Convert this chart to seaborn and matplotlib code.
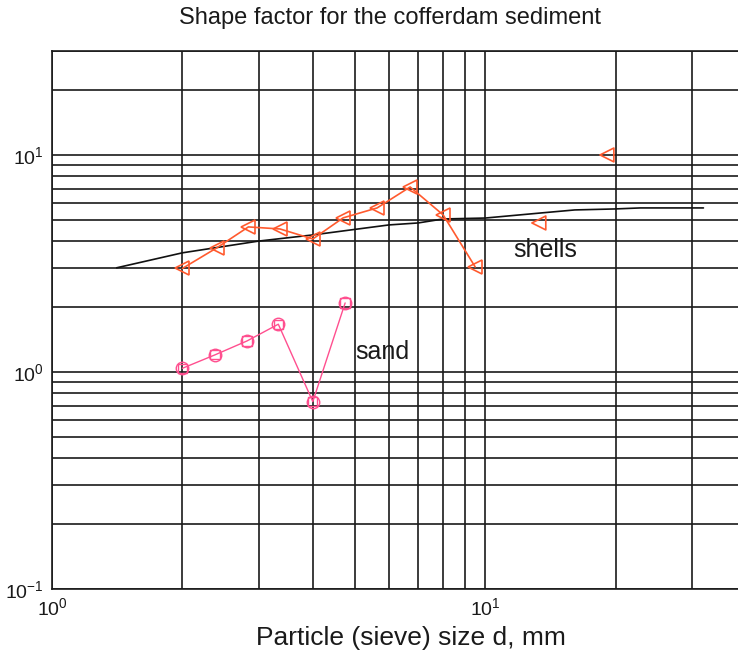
import numpy as np
import pandas as pd
import seaborn as sns
import matplotlib.pyplot as plt

# shells (connected series)
shell_d = [2.0, 2.4, 2.84, 3.36, 4.0, 4.7, 5.63, 6.71, 8.0, 9.48]
shell_f = [3.0, 3.73, 4.66, 4.56, 4.1, 5.13, 5.7, 7.12, 5.29, 3.05]
# shells, loose points
shell_extra_d = [13.3, 19.1]
shell_extra_f = [4.86, 10.0]
# sand
sand_d = [2.0, 2.38, 2.82, 3.33, 4.0, 4.75]
sand_f = [1.04, 1.2, 1.39, 1.66, 0.73, 2.08]
# fitted curve
fit_d = [1.41, 2.0, 3.0, 4.0, 4.88, 6.0, 7.0, 8.0, 10.0, 13.4, 16.1, 20.0, 22.8, 31.9]
fit_f = [3.02, 3.54, 4.01, 4.28, 4.51, 4.76, 4.86, 5.07, 5.12, 5.4, 5.58, 5.64, 5.7, 5.7]

shell_color = "#ff5a2e"
sand_color = "#ff4f8f"

sns.set_style("white")
plt.rcParams['font.family'] = ['Liberation Sans', 'DejaVu Sans']

fig = plt.figure(figsize=(7.38, 6.6), dpi=100)
ax = fig.add_axes([52 / 738, 71 / 660, 694 / 738, 537.6 / 660])

sns.lineplot(x=fit_d, y=fit_f, color="#111111", linewidth=1.2, estimator=None, sort=False, ax=ax)
sns.lineplot(x=shell_d, y=shell_f, color=shell_color, linewidth=1.2, marker="<", markersize=10,
             markerfacecolor="none", markeredgecolor=shell_color, markeredgewidth=1.2,
             estimator=None, sort=False, ax=ax)
sns.scatterplot(x=shell_extra_d, y=shell_extra_f, marker="<", s=100, facecolor="none",
                edgecolor=shell_color, linewidth=1.2, ax=ax)
sns.lineplot(x=sand_d, y=sand_f, color=sand_color, linewidth=1.0, marker="o", markersize=9,
             markerfacecolor="none", markeredgecolor=sand_color, markeredgewidth=1.0,
             estimator=None, sort=False, ax=ax)
sns.scatterplot(x=sand_d, y=sand_f, marker="s", s=45, facecolor="none",
                edgecolor=sand_color, linewidth=1.0, ax=ax)

ax.set_xscale("log")
ax.set_yscale("log")
ax.set_xlim(1, 40)
ax.set_ylim(0.1, 30)

ax.grid(True, which="both", color="#1a1a1a", linewidth=1.2, linestyle="-")
ax.set_axisbelow(True)
for s in ax.spines.values():
    s.set_color("#1a1a1a")
    s.set_linewidth(1.2)
ax.tick_params(which="both", length=0, labelsize=14, colors="#1a1a1a")
ax.tick_params(axis="x", pad=6)
ax.tick_params(axis="y", pad=6)

ax.text(11.6, 3.65, "shells", fontsize=18, va="center", ha="left", color="#1a1a1a")
ax.text(5.0, 1.24, "sand", fontsize=18, va="center", ha="left", color="#1a1a1a")

fig.text(390 / 738, 1 - 18 / 660, "Shape factor for the cofferdam sediment",
         ha="center", va="center", fontsize=17, color="#1a1a1a")
fig.text(411 / 738, 1 - 638 / 660, "Particle (sieve) size d, mm",
         ha="center", va="center", fontsize=19, color="#1a1a1a")

fig.savefig("out.png", dpi=100, facecolor="white")
